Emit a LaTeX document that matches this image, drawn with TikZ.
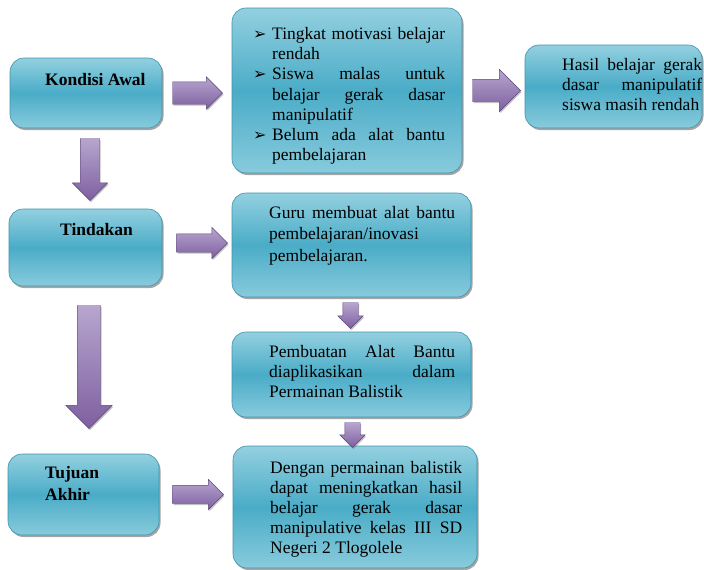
\documentclass[tikz,border=0pt]{standalone}
\usepackage{fontspec}
\setmainfont{Liberation Serif}
\newfontfamily\symfont{DejaVu Sans}
\usetikzlibrary{positioning,calc,shapes.arrows,shadows}
\definecolor{aquatop}{HTML}{93D0E0}
\definecolor{aquamid}{HTML}{4AACC7}
\definecolor{aquaedge}{HTML}{3F93AC}
\definecolor{lilactop}{HTML}{B7A6CE}
\definecolor{lilacmid}{HTML}{7E5FA0}
\definecolor{lilacedge}{HTML}{5E4580}
\newcommand{\butir}{\par\noindent\hangindent=19pt\hangafter=1\makebox[19pt][l]{\symfont\fontsize{16}{16}\selectfont ➢}}

\tikzset{
  kotak/.style={draw=aquaedge, line width=0.6pt, rounded corners=14pt, top color=aquatop, bottom color=aquatop!85!aquamid, middle color=aquamid, drop shadow={shadow xshift=1.5pt, shadow yshift=-2pt, fill=black!70, opacity=0.5}},
  tulisan/.style={inner sep=0pt, font=\fontsize{17.5}{20.2}\selectfont, align=justify},
  judul/.style={inner sep=0pt, font=\fontsize{17.5}{22}\selectfont\bfseries, align=left},
  panah/.style={single arrow, anchor=tail, draw=lilacedge, line width=0.4pt, top color=lilactop, bottom color=lilacmid, inner sep=10pt, single arrow head extend=7pt, drop shadow={shadow xshift=1pt, shadow yshift=-1.5pt, fill=black!60, opacity=0.4}},
  turun/.style={panah, shape border rotate=270}
}

\begin{document}
\begin{tikzpicture}[x=1pt,y=-1pt]
  \useasboundingbox (0,0) rectangle (704,570);
  % kotak
  \node[kotak, minimum width=152pt, minimum height=70pt] (awal) at (86,93) {};
  \node[kotak, minimum width=230pt, minimum height=165pt] (masalah) at (347,90.5) {};
  \node[kotak, minimum width=177pt, minimum height=83pt] (hasil) at (613.5,86.5) {};
  \node[kotak, minimum width=153pt, minimum height=77pt] (tindakan) at (85.5,247.5) {};
  \node[kotak, minimum width=239pt, minimum height=104pt] (guru) at (351.5,245) {};
  \node[kotak, minimum width=239pt, minimum height=85pt] (buat) at (351.5,374.5) {};
  \node[kotak, minimum width=151pt, minimum height=81pt] (tujuan) at (83.5,494.5) {};
  \node[kotak, minimum width=244pt, minimum height=122pt] (akhir) at (355,507) {};
  % panah
  \node[panah, minimum height=50pt, inner sep=11pt, single arrow head extend=5pt] (r1) at ([xshift=10pt]awal.east) {};
  \node[panah, minimum height=48pt, inner sep=11pt, single arrow head extend=10pt] (r2) at ([xshift=10pt]masalah.east) {};
  \node[panah, minimum height=51pt, inner sep=9pt, single arrow head extend=6.5pt] (r3) at ([xshift=14pt,yshift=4.5pt]tindakan.east) {};
  \node[panah, minimum height=51pt, inner sep=9pt, single arrow head extend=6pt] (r4) at ([xshift=13pt]tujuan.east) {};
  \node[turun, minimum height=62pt, inner sep=9.5pt, single arrow head extend=8pt] (d1) at ([xshift=4pt,yshift=-10pt]awal.south) {};
  \node[turun, minimum height=123pt, inner sep=11.5pt, single arrow head extend=11.5pt] (d2) at ([xshift=3.5pt,yshift=-19pt]tindakan.south) {};
  \node[turun, minimum height=26pt, inner sep=7.5pt, single arrow head extend=5pt] (d3) at ([xshift=-1pt,yshift=-5pt]guru.south) {};
  \node[turun, minimum height=25pt, inner sep=7.5pt, single arrow head extend=5pt] (d4) at ([xshift=1pt,yshift=-5pt]buat.south) {};
  % tulisan
  \node[judul, anchor=base west] (tawal) at (45,85) {Kondisi Awal};
  \node[judul, anchor=base west] (ttindakan) at (60,235) {Tindakan};
  \node[judul, anchor=north west] (ttujuan) at (45,466) {Tujuan\\Akhir};
  \node[tulisan, text width=192pt, anchor=north west] (tmasalah) at (253,19) {%
    \butir Tingkat motivasi belajar\linebreak rendah
    \butir Siswa malas untuk\linebreak belajar gerak dasar\linebreak manipulatif
    \butir Belum ada alat bantu\linebreak pembelajaran\par};
  \node[tulisan, text width=140pt, anchor=north west] (thasil) at (562,58) {Hasil belajar gerak\linebreak dasar manipulatif\linebreak siswa masih rendah};
  \node[tulisan, text width=186pt, anchor=north west, font=\fontsize{17.5}{21.5}\selectfont] (tguru) at (269,206) {Guru membuat alat bantu\linebreak pembelajaran/inovasi\\ pembelajaran.};
  \node[tulisan, text width=186pt, anchor=north west] (tbuat) at (269,345) {Pembuatan Alat Bantu\linebreak diaplikasikan dalam\linebreak Permainan Balistik};
  \node[tulisan, text width=192pt, anchor=north west, font=\fontsize{17.5}{20}\selectfont] (takhir) at (270,461) {Dengan permainan balistik\linebreak dapat meningkatkan hasil\linebreak belajar gerak dasar\linebreak manipulative kelas III SD\linebreak Negeri 2 Tlogolele};
\end{tikzpicture}
\end{document}
